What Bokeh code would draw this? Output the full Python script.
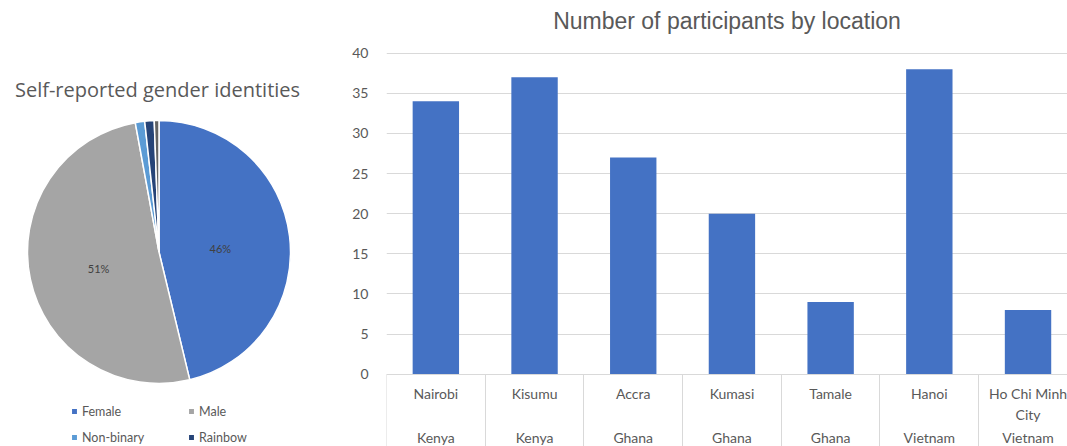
import numpy as np
from bokeh.plotting import figure
from bokeh.models import (Range1d, FixedTicker, Label, ColumnDataSource,
                          Legend, LegendItem, LinearAxis)
from bokeh.layouts import row
from bokeh.embed import file_html
from bokeh.resources import INLINE
from bokeh.core.properties import value

# ---------------- data ----------------
gender_labels = ["Female", "Male", "Non-binary", "Rainbow", "Other"]
gender_counts = [80, 88, 2, 2, 1]
gender_colors = ["#4472C4", "#A5A5A5", "#5B9BD5", "#264478", "#636363"]
gender_shown_pct = ["Female", "Male"]
legend_shown = ["Female", "Male", "Non-binary", "Rainbow"]

cities = ["Nairobi", "Kisumu", "Accra", "Kumasi", "Tamale", "Hanoi", "Ho Chi Minh\nCity"]
countries = ["Kenya", "Kenya", "Ghana", "Ghana", "Ghana", "Vietnam", "Vietnam"]
participants = [34, 37, 27, 20, 9, 38, 8]
y_ticks = [0, 5, 10, 15, 20, 25, 30, 35, 40]

GRAY = "#595959"
FONT = "Lato"
TOP = 38          # shared top border of both panels
H = 446

# ---------------- pie ----------------
PW = 338
pie = figure(width=PW, height=H, x_range=Range1d(0, PW), y_range=Range1d(0, H - TOP),
             output_backend="svg", toolbar_location=None, min_border=0,
             min_border_top=TOP)
pie.axis.visible = False
pie.grid.visible = False
pie.outline_line_color = None

cx, cy, R = 158.5, 194.5, 131.5
counts = np.array(gender_counts, dtype=float)
frac = counts / counts.sum()
cum_end = np.cumsum(frac)
cum_start = cum_end - frac
start = np.pi / 2 - 2 * np.pi * cum_end
end = np.pi / 2 - 2 * np.pi * cum_start
src = ColumnDataSource(dict(start=start, end=end, color=gender_colors, label=gender_labels))
wr = pie.wedge(x=cx, y=cy, radius=R, start_angle="start", end_angle="end",
               fill_color="color", line_color="white", line_width=1.5, source=src)

mid = (start + end) / 2
lx, ly, lt = [], [], []
for i, g in enumerate(gender_labels):
    if g in gender_shown_pct:
        lx.append(cx + 0.47 * R * np.cos(mid[i]))
        ly.append(cy + 0.47 * R * np.sin(mid[i]) - 4)
        lt.append(f"{round(100 * frac[i])}%")
pie.text(x=lx, y=ly, text=lt, text_align="center", text_baseline="middle",
         text_font=value(FONT), text_font_size="11px", text_color="#404040")

pie.add_layout(Label(x=157, y=H - 89, text="Self-reported gender identities",
                     text_align="center", text_baseline="middle", text_font="Open Sans",
                     text_font_size="20px", text_color=GRAY))

# legend filled column by column: reorder so rows read Female/Male, Non-binary/Rainbow
ncols = 2
nrows = int(np.ceil(len(legend_shown) / ncols))
order = [r * ncols + c for c in range(ncols) for r in range(nrows)]
items = [LegendItem(label=legend_shown[k], renderers=[wr],
                    index=gender_labels.index(legend_shown[k])) for k in order]
legend = Legend(items=items, ncols=ncols, location=(70, -1), glyph_width=8, glyph_height=8,
                label_text_font=FONT, label_text_font_size="12.5px", label_text_color=GRAY,
                label_standoff=4, label_width=99, label_height=20, spacing=6,
                padding=0, margin=0, border_line_color=None, background_fill_alpha=0)
pie.add_layout(legend)

# ---------------- bar ----------------
BW = 1067 - PW
n = len(cities)
centers = np.arange(n) + 0.5
bounds = list(range(n + 1))
px_per_unit = 8.025
y0_screen = 373.7
y40_screen = 52.7
y_end = 40 + (y40_screen - TOP) / px_per_unit
y_start = -(H - y0_screen) / px_per_unit

bar = figure(width=BW, height=H, x_range=Range1d(0, 6.9), y_range=Range1d(y_start, y_end),
             output_backend="svg", toolbar_location=None,
             min_border_left=48, min_border_right=0, min_border_top=TOP, min_border_bottom=0,
             title="Number of participants by location")
bar.title.align = "center"
bar.title.text_font = "Liberation Sans"
bar.title.text_font_size = "23px"
bar.title.text_font_style = "normal"
bar.title.text_color = GRAY
bar.outline_line_color = None

bar.vbar(x=centers, top=participants, width=0.47, fill_color="#4472C4", line_color=None)

bar.xgrid.visible = False
bar.ygrid.grid_line_color = "#d9d9d9"
bar.ygrid.ticker = FixedTicker(ticks=y_ticks)

ya = bar.yaxis[0]
ya.ticker = FixedTicker(ticks=y_ticks)
ya.axis_line_color = None
ya.major_tick_line_color = None
ya.minor_tick_line_color = None
ya.major_label_text_color = GRAY
ya.major_label_text_font = FONT
ya.major_label_text_font_size = "14px"
ya.major_label_standoff = 12

# category separators + baseline
xa = bar.xaxis[0]
xa.fixed_location = 0
xa.ticker = FixedTicker(ticks=bounds)
xa.major_label_overrides = {b: "" for b in bounds}
xa.axis_line_color = "#d9d9d9"
xa.major_tick_line_color = "#d9d9d9"
xa.major_tick_out = 90
xa.major_tick_in = 0
xa.minor_tick_line_color = None

def label_axis(texts, standoff):
    ax = LinearAxis(fixed_location=0, ticker=FixedTicker(ticks=list(centers)),
                    major_label_overrides={float(c): t for c, t in zip(centers, texts)},
                    axis_line_color=None, major_tick_line_color=None,
                    minor_tick_line_color=None, major_tick_out=0, major_tick_in=0,
                    major_label_standoff=standoff, major_label_text_color=GRAY,
                    major_label_text_font=FONT, major_label_text_font_size="14px",
                    major_label_text_line_height=1.2)
    bar.add_layout(ax, "below")

label_axis(cities, 11)
label_axis(countries, 55)

layout = row(pie, bar)
open("out.html", "w").write(file_html(layout, INLINE))
